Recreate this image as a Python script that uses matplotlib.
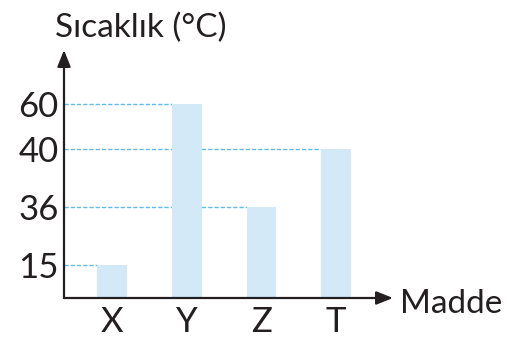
import numpy as np
import matplotlib
matplotlib.use('Agg')
import matplotlib.pyplot as plt

# data
maddeler = ['X', 'Y', 'Z', 'T']
sicaklik = [15, 60, 36, 40]
y_ticks = [15, 36, 40, 60]

# axis is drawn schematic (not to scale), so map values piecewise
scale_in = [0, 15, 36, 40, 60, 80]
scale_out = [0, 33, 91, 149, 194, 248]

def forward(v):
    return np.interp(v, scale_in, scale_out)

def inverse(v):
    return np.interp(v, scale_out, scale_in)

plt.rcParams['font.family'] = ['Lato', 'DejaVu Sans']
axis_col = '#231f20'
bar_col = '#d3e9f8'
dash_col = '#5fbbea'

fig = plt.figure(figsize=(5.07, 3.43), dpi=100)
ax = fig.add_axes([64 / 507, 45 / 343, (393 - 64) / 507, (298 - 50) / 343])
ax.set_yscale('function', functions=(forward, inverse))

x = np.arange(len(maddeler))
w = 0.40
x_left = -0.643
ax.set_xlim(x_left, 3.76)
ax.set_ylim(0, 80)

ax.bar(x, sicaklik, width=w, color=bar_col, zorder=2)
for i, v in enumerate(sicaklik):
    ax.plot([x_left, i - w / 2], [v, v], ls=(0, (3, 1.5)), lw=1.0, color=dash_col, zorder=1)

for s in ax.spines.values():
    s.set_visible(False)
for tip in [(1, 0), (0, 1)]:
    ax.annotate('', xy=tip, xytext=(0, 0), xycoords='axes fraction',
                arrowprops=dict(arrowstyle='-|>,head_length=1.0,head_width=0.4', lw=1.6, color=axis_col,
                                shrinkA=0, shrinkB=0), zorder=5)

ax.set_yticks(y_ticks)
ax.set_yticklabels([str(t) for t in y_ticks], fontsize=25, color=axis_col)
ax.yaxis.set_minor_locator(matplotlib.ticker.NullLocator())
ax.set_xticks(x)
ax.set_xticklabels(maddeler, fontsize=25, color=axis_col)
ax.tick_params(axis='y', length=0, pad=4)
ax.tick_params(axis='x', length=0, pad=6)

fig.text(55 / 507, 1 - 37 / 343, 'Sıcaklık (°C)', fontsize=24, color=axis_col, va='baseline', ha='left')
fig.text(400 / 507, 1 - 313 / 343, 'Madde', fontsize=24, color=axis_col, va='baseline', ha='left')

fig.savefig('out.png', dpi=100)
